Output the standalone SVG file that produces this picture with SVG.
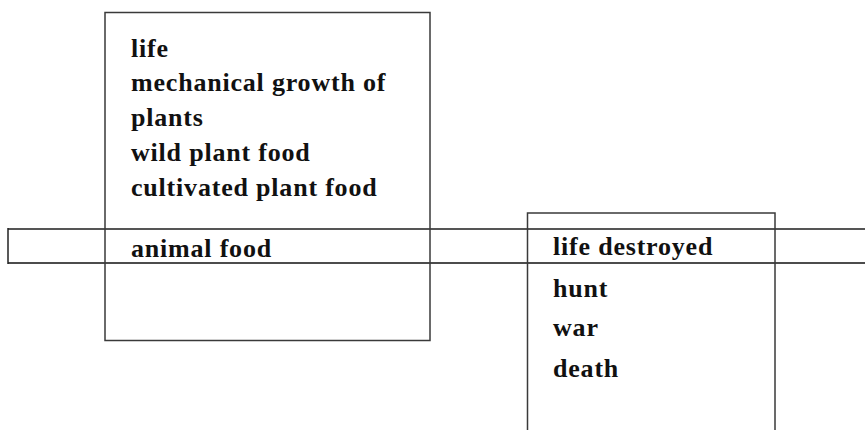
<svg xmlns="http://www.w3.org/2000/svg" width="865" height="430" viewBox="0 0 865 430">
<style>
.bg{fill:#ffffff}
.box{fill:none;stroke:#3a3a3a;stroke-width:1.5}
.t{font-family:"Liberation Serif",serif;font-weight:bold;font-size:26px;letter-spacing:0.8px;fill:#111}
</style>
<rect class="bg" x="0" y="0" width="865" height="430"/>
<g id="band">
<line x1="8" y1="229" x2="865" y2="229" stroke="#555" stroke-width="2"/>
<line x1="8" y1="263" x2="865" y2="263" stroke="#111" stroke-width="1.5"/>
<line x1="8" y1="228" x2="8" y2="264" stroke="#222" stroke-width="1.5"/>
</g>
<g id="life-box">
<rect class="box" x="105" y="12.5" width="325" height="328"/>
<text class="t" x="131" y="57">life</text>
<text class="t" x="131" y="91">mechanical growth of</text>
<text class="t" x="131" y="126">plants</text>
<text class="t" x="131" y="161">wild plant food</text>
<text class="t" x="131" y="196">cultivated plant food</text>
<text class="t" x="131" y="257">animal food</text>
</g>
<g id="death-box">
<rect class="box" x="527.5" y="213" width="247.5" height="230" stroke="#222"/>
<text class="t" x="553" y="255">life destroyed</text>
<text class="t" x="553" y="297">hunt</text>
<text class="t" x="553" y="336">war</text>
<text class="t" x="553" y="377">death</text>
</g>
<g id="connectors"></g>
</svg>
